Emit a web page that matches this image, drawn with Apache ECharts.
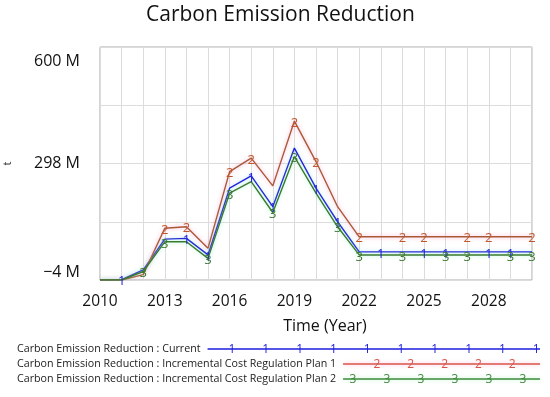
<!DOCTYPE html>
<html>
<head>
<meta charset="utf-8">
<script src="https://cdn.jsdelivr.net/npm/echarts@6/dist/echarts.min.js"></script>
<style>
html,body{margin:0;padding:0;background:#fff;}
#chart{width:550px;height:397px;}
</style>
</head>
<body>
<div id="chart"></div>
<script>
// ---- data (values in millions of tonnes) ----
const years = [2010,2011,2012,2013,2014,2015,2016,2017,2018,2019,2020,2021,2022,2023,2024,2025,2026,2027,2028,2029,2030];
const current = [-4,-3,22,102,104,61,234,266,186,338,234,147,69,69,69,69,69,69,69,69,69];
const plan1   = [-4,-4,10,130,134,78,277,312,240,408,303,186,108,108,108,108,108,108,108,108,108];
const plan2   = [-4,-4,18,95,95,52,221,251,171,316,221,134,61,61,61,61,61,61,61,61,61];
const markCurrent = [2011,2014,2015,2017,2018,2020,2021,2023,2025,2026,2028,2029];
const markPlan1   = [2013,2014,2016,2017,2019,2020,2022,2024,2025,2027,2028,2030];
const markPlan2   = [2012,2013,2015,2016,2018,2019,2021,2022,2024,2026,2027,2029,2030];
const yTicks  = [-4,147,298,449,600];
const yLabels = [-4,298,600];
const xLabelYears = [2010,2013,2016,2019,2022,2025,2028];
const seriesNames = [
  'Carbon Emission Reduction : Current',
  'Carbon Emission Reduction : Incremental Cost Regulation Plan 1',
  'Carbon Emission Reduction : Incremental Cost Regulation Plan 2'
];

const FONT = "'Open Sans', 'Noto Sans', sans-serif";
const chart = echarts.init(document.getElementById('chart'), null, {renderer:'canvas'});

function build(vals, marks){
  return years.map((y,i)=>({value:[y, vals[i]], label:{show: marks.indexOf(y) >= 0}}));
}
function mkSeries(name, vals, marks, digit, lineColor, digitColor, halo){
  return {
    name: name, type:'line', data: build(vals, marks),
    symbol:'circle', symbolSize:0, showSymbol:true,
    lineStyle:{color: lineColor, width:1.4, shadowColor: halo, shadowBlur:4},
    itemStyle:{color: lineColor},
    label:{show:false, position:'inside', formatter: digit, color: digitColor,
      fontSize:13, fontFamily: FONT, offset:[0,2]},
    emphasis:{disabled:true}, silent:true
  };
}

// legend (drawn as graphic, Vensim style)
const ctx = document.createElement('canvas').getContext('2d');
const LFS = 10.7;
ctx.font = LFS + "px 'Open Sans'";
const legendRows = [
  {y:349, color:'#1c1ce0', halo:'rgba(120,170,255,0.0)', digit:'1', digits:[232,265.8,299.6,333.4,367.2,401,434.8,468.6,502.4,536.2]},
  {y:364, color:'#d9534a', halo:'rgba(255,150,190,0.6)', digit:'2', digits:[377,410.8,444.6,478.4,512.2]},
  {y:379, color:'#3a8a3a', halo:'rgba(150,240,170,0.6)', digit:'3', digits:[353,387,421,455,489,523]}
];
const graphics = [];
legendRows.forEach((r, i)=>{
  const w = ctx.measureText(seriesNames[i]).width;
  graphics.push({type:'text', x:17, y:r.y, style:{text:seriesNames[i], fill:'#222', font: LFS+"px "+FONT, verticalAlign:'middle'}});
  const x0 = 17 + w + 7;
  graphics.push({type:'line', shape:{x1:x0, y1:r.y, x2:540, y2:r.y},
    style:{stroke:r.color, lineWidth:1.3, shadowColor:r.halo, shadowBlur:4}});
  r.digits.forEach(dx=>{
    graphics.push({type:'text', x:dx, y:r.y+1, style:{text:r.digit, fill:r.color, font:"12px "+FONT, align:'center', verticalAlign:'middle'}});
  });
});

const fmtY = v => {
  const s = (v < 0 ? '\u2212' : '') + Math.abs(Math.round(v)) + ' M';
  if (v >= 600) return '{t|' + s + '}';
  if (v <= -4) return '{b|' + s + '}';
  return s;
};

chart.setOption({
  animation:false,
  backgroundColor:'#fff',
  title:{text:'Carbon Emission Reduction', left:146, top:0, padding:[5,0,0,0],
    textStyle:{fontFamily:FONT, fontSize:21, fontWeight:'normal', color:'#111'}},
  grid:{left:100, right:18, top:47, bottom:117, show:true, borderColor:'#aaaaaa', borderWidth:1,
    containLabel:false, outerBoundsMode:'none'},
  xAxis:{type:'value', min:2010, max:2030, interval:1,
    name:'Time (Year)', nameLocation:'middle', nameGap:38,
    nameTextStyle:{fontFamily:FONT, fontSize:16, color:'#111', padding:[0,0,0,18]},
    axisLine:{show:false}, axisTick:{show:false},
    axisLabel:{fontFamily:FONT, fontSize:15.5, color:'#111', margin:14,
      formatter: v => xLabelYears.indexOf(v) >= 0 ? String(v) : ''},
    splitLine:{show:true, lineStyle:{color:'#dcdcdc', width:1}}
  },
  yAxis:{type:'value', min:-4, max:600,
    name:'t', nameLocation:'middle', nameGap:87, nameRotate:90,
    nameTextStyle:{fontFamily:FONT, fontSize:11, color:'#333'},
    axisLine:{show:false},
    axisTick:{show:false, customValues: yTicks},
    axisLabel:{customValues: yLabels, fontFamily:FONT, fontSize:16, color:'#111', margin:20,
      formatter: fmtY,
      rich:{
        t:{fontFamily:FONT, fontSize:16, color:'#111', padding:[28,0,0,0]},
        b:{fontFamily:FONT, fontSize:16, color:'#111', padding:[0,0,16,0]}
      }},
    splitLine:{show:true, lineStyle:{color:'#dcdcdc', width:1}}
  },
  series:[
    mkSeries(seriesNames[0], current, markCurrent, '1', '#2222d8', '#2222d8', 'rgba(120,200,255,0.5)'),
    mkSeries(seriesNames[1], plan1, markPlan1, '2', '#a85a38', '#c0582e', 'rgba(255,140,190,0.7)'),
    mkSeries(seriesNames[2], plan2, markPlan2, '3', '#3a7a30', '#3a7a30', 'rgba(140,255,180,0.6)')
  ],
  graphic: graphics
});
</script>
</body>
</html>
